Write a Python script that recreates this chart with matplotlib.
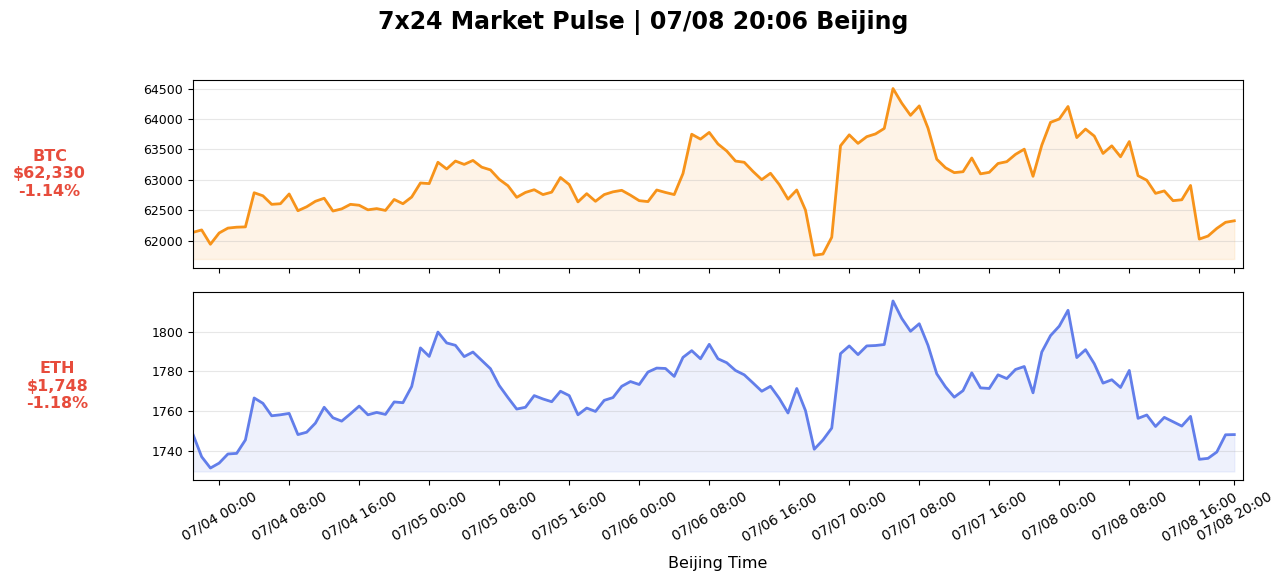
import numpy as np
import pandas as pd
import matplotlib
matplotlib.use('Agg')
import matplotlib.pyplot as plt
import matplotlib.dates as mdates


# Hourly closes, Beijing time
times = pd.date_range('2023-07-03 21:00', periods=120, freq='h')

btc = [62140, 62180, 61945, 62130, 62210, 62225, 62230, 62790, 62740, 62600,
       62610, 62770, 62495, 62560, 62650, 62700, 62490, 62525, 62600, 62585,
       62510, 62530, 62500, 62680, 62610, 62720, 62950, 62940, 63290, 63180,
       63310, 63255, 63320, 63210, 63165, 63010, 62905, 62715, 62795, 62840,
       62760, 62800, 63040, 62925, 62640, 62775, 62650, 62760, 62805, 62830,
       62750, 62660, 62645, 62835, 62795, 62760, 63105, 63750, 63670, 63780,
       63590, 63475, 63310, 63290, 63140, 63005, 63110, 62925, 62685, 62835,
       62505, 61765, 61785, 62060, 63560, 63740, 63600, 63710, 63755, 63845,
       64500, 64260, 64060, 64215, 63850, 63340, 63200, 63120, 63135, 63360,
       63100, 63125, 63270, 63300, 63420, 63505, 63060, 63570, 63945, 64000,
       64205, 63695, 63835, 63720, 63435, 63560, 63380, 63630, 63070, 62995,
       62780, 62820, 62660, 62675, 62910, 62030, 62080, 62205, 62305, 62330]

eth = [1748.3, 1736.9, 1731.2, 1733.7, 1738.3, 1738.6, 1745.4, 1766.6, 1763.9, 1757.6,
       1758.1, 1758.8, 1748.1, 1749.3, 1753.9, 1761.9, 1756.6, 1754.9, 1758.6, 1762.5,
       1758.1, 1759.3, 1758.3, 1764.6, 1764.2, 1772.4, 1791.9, 1787.6, 1799.9, 1794.4,
       1793.2, 1787.5, 1789.8, 1785.6, 1781.4, 1772.9, 1766.8, 1761.0, 1761.9, 1767.8,
       1766.1, 1764.7, 1770.0, 1767.8, 1758.1, 1761.5, 1759.8, 1765.4, 1766.8, 1772.5,
       1774.9, 1773.4, 1779.7, 1781.7, 1781.5, 1777.5, 1787.1, 1790.5, 1786.4, 1793.7,
       1786.4, 1784.4, 1780.5, 1778.3, 1774.2, 1770.0, 1772.5, 1766.4, 1759.0, 1771.4,
       1760.2, 1740.7, 1745.4, 1751.4, 1789.0, 1792.9, 1788.5, 1792.9, 1793.1, 1793.6,
       1815.6, 1806.8, 1800.3, 1804.1, 1793.2, 1778.8, 1772.2, 1767.0, 1770.3, 1779.3,
       1771.7, 1771.4, 1778.3, 1776.4, 1781.0, 1782.5, 1769.2, 1789.8, 1798.1, 1802.9,
       1810.9, 1787.0, 1791.0, 1783.9, 1774.1, 1775.8, 1771.9, 1780.5, 1756.3, 1758.0,
       1752.2, 1756.8, 1754.6, 1752.4, 1757.3, 1735.6, 1736.1, 1739.3, 1748.0, 1748.1]

labels = ['BTC\n$62,330\n-1.14%', 'ETH\n$1,748\n-1.18%']
colors = ['#F7931A', '#627EEA']
series = [btc, eth]


fig, axes = plt.subplots(2, 1, figsize=(12.86, 5.83), dpi=100, sharex=True)
fig.subplots_adjust(left=0.150, right=0.9666, top=0.8628, bottom=0.1767, hspace=0.133)

for ax, vals, col, lab in zip(axes, series, colors, labels):
    vals = np.array(vals)
    ax.plot(times, vals, color=col, linewidth=2)
    ax.fill_between(times, vals, vals.min() * 0.999, color=col, alpha=0.1)
    ax.set_ylabel(lab, rotation=0, fontsize=11.5, fontweight='bold', color='#E74C3C',
                  ha='center', va='center', labelpad=67.5)
    ax.grid(axis='y', alpha=0.3)
    ax.tick_params(axis='y', labelsize=9)

ticks = list(times[3::8]) + [times[-1]]
axes[1].set_xticks(ticks)
axes[1].xaxis.set_major_formatter(mdates.DateFormatter('%m/%d %H:%M'))
axes[1].set_xlim(times[0], times[-1] + pd.Timedelta(hours=1))
plt.setp(axes[1].get_xticklabels(), rotation=30, fontsize=10)
axes[1].set_xlabel('Beijing Time', fontsize=11.5, labelpad=9)

fig.suptitle('7x24 Market Pulse | 07/08 20:06 Beijing', fontsize=17, fontweight='bold', y=0.982)

plt.savefig('out.png')
